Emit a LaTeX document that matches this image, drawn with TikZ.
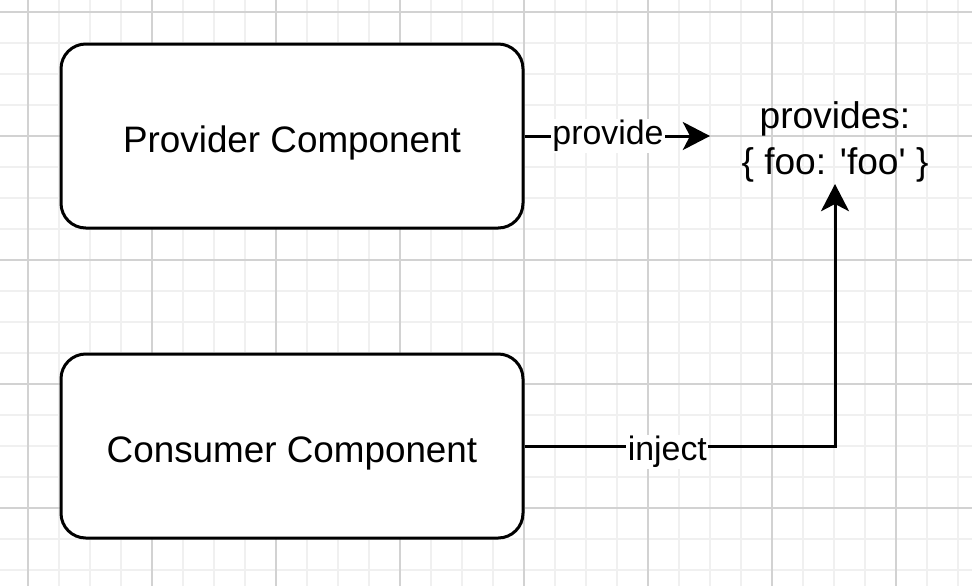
\documentclass[tikz,border=0pt]{standalone}
\usepackage{fontspec}
\setmainfont{Liberation Sans}
\definecolor{gridminor}{RGB}{240, 240, 240}
\definecolor{gridmajor}{RGB}{210, 210, 210}
\usetikzlibrary{arrows.meta, positioning, calc}

\begin{document}
\begin{tikzpicture}[
        comp/.style={draw, fill=white, line width=0.075cm, rounded corners=0.62cm,
                     minimum width=11.55cm, minimum height=4.6cm,
                     text height=0.8cm, text depth=0cm,
                     font=\fontsize{26.2}{31}\selectfont},
        conn/.style={-{Stealth[length=0.68cm, width=0.7cm, inset=0.18cm]},
                     line width=0.075cm},
        elabel/.style={fill=white, inner sep=1pt,
                       font=\fontsize{24.1}{29}\selectfont}
      ]
        \useasboundingbox (0,0) rectangle (24.3,-14.65);
        \fill[white] (0,0) rectangle (24.3,-14.65);

        % Grid
        \foreach \i in {0,...,30}{
          \draw[gridminor, line width=0.03cm] ({0.7+0.775*\i},0) -- ++(0,-14.65);
        }
        \foreach \i in {0,...,18}{
          \draw[gridminor, line width=0.03cm] (0,{-0.3-0.775*\i}) -- ++(24.3,0);
        }
        \foreach \i in {0,...,7}{
          \draw[gridmajor, line width=0.03cm] ({0.7+3.1*\i},0) -- ++(0,-14.65);
        }
        \foreach \i in {0,...,4}{
          \draw[gridmajor, line width=0.03cm] (0,{-0.3-3.1*\i}) -- ++(24.3,0);
        }

        % Components
        \node[comp] (provider) at (7.3, -3.4) {Provider Component};
        \node[comp] (consumer) at (7.3, -11.15) {Consumer Component};

        % Provided object
        \node[align=center, font=\fontsize{26.4}{32.7}\selectfont]
              (provides) at (20.875, -3.55)
              {provides:\\\{ foo: \textquotesingle foo\textquotesingle\ \}};
        \coordinate (provideEnd) at (17.75, -3.4);
        \coordinate (injectEnd) at (20.875, -4.6);

        % Connections
        \draw[conn] (provider.east) -- node[elabel, pos=0.45]{provide} (provideEnd);
        \draw[conn] (consumer.east) -- node[elabel, pos=0.46, yshift=-0.15cm]{inject}
              (consumer.east -| injectEnd) -- (injectEnd);
      \end{tikzpicture}
\end{document}
